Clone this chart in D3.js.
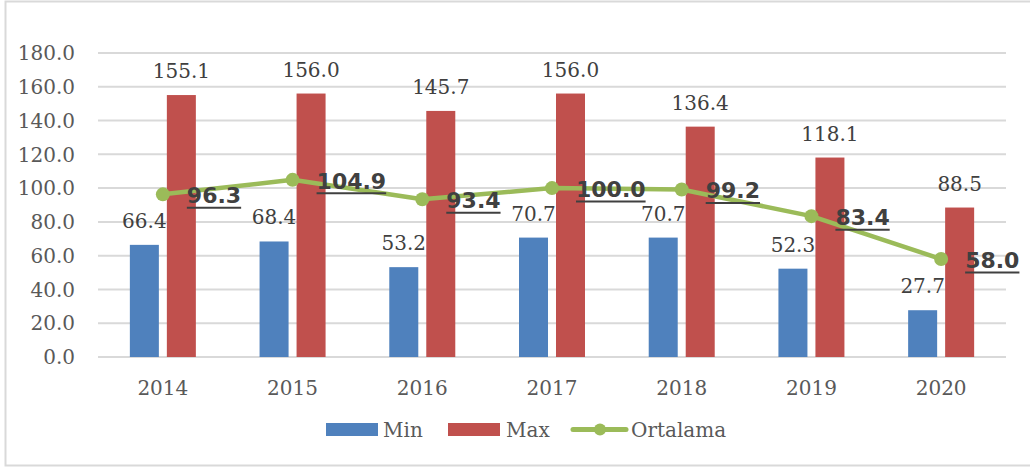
<!DOCTYPE html>
<html>
<head>
<meta charset="utf-8">
<script src="https://cdn.jsdelivr.net/npm/d3@7"></script>
<style>
  html, body { margin: 0; padding: 0; background: #fff; }
  svg { display: block; }
</style>
</head>
<body>
<div id="chart"></div>
<script>
// dades del gràfic
const years = ["2014", "2015", "2016", "2017", "2018", "2019", "2020"];
const minValues = [66.4, 68.4, 53.2, 70.7, 70.7, 52.3, 27.7];
const maxValues = [155.1, 156.0, 145.7, 156.0, 136.4, 118.1, 88.5];
const avgValues = [96.3, 104.9, 93.4, 100.0, 99.2, 83.4, 58.0];
const yTicks = [0, 20, 40, 60, 80, 100, 120, 140, 160, 180];
const seriesNames = ["Min", "Max", "Ortalama"];

const W = 1030, H = 468;
const blue = "#4f81bd", red = "#c0504d", green = "#9bbb59";
const textGray = "#595959";
const serif = "'DejaVu Serif', serif";

const svg = d3.select("#chart").append("svg")
  .attr("width", W).attr("height", H);

// vora del gràfic
svg.append("rect")
  .attr("x", 5.5).attr("y", 1.5)
  .attr("width", W).attr("height", 464)
  .attr("fill", "#fff").attr("stroke", "#d9d9d9").attr("stroke-width", 2);

const x = d3.scaleBand().domain(years).range([98, 1006]);
const sub = d3.scaleBand().domain(["min", "max"]).range([-33, 33]).paddingInner(0.216);
const y = d3.scaleLinear().domain([0, 180]).range([357, 53]);
const cx = d => x(d) + x.bandwidth() / 2;

// línies de la graella
svg.append("g").selectAll("line").data(yTicks).join("line")
  .attr("x1", 98).attr("x2", 1006)
  .attr("y1", d => y(d)).attr("y2", d => y(d))
  .attr("stroke", "#d9d9d9").attr("stroke-width", 2);

// eix Y
svg.append("g").selectAll("text").data(yTicks).join("text")
  .attr("x", 75).attr("y", d => y(d)).attr("dy", "0.36em")
  .attr("text-anchor", "end")
  .attr("font-family", serif).attr("font-size", 20).attr("fill", textGray)
  .text(d => d.toFixed(1));

// eix X
svg.append("g").selectAll("text").data(years).join("text")
  .attr("x", d => cx(d)).attr("y", 395)
  .attr("text-anchor", "middle")
  .attr("font-family", serif).attr("font-size", 20).attr("fill", textGray)
  .text(d => d);

// barres
const barData = years.flatMap((yr, i) => [
  {yr, key: "min", v: minValues[i], c: blue},
  {yr, key: "max", v: maxValues[i], c: red}
]);
svg.append("g").selectAll("rect").data(barData).join("rect")
  .attr("x", d => cx(d.yr) + sub(d.key))
  .attr("y", d => y(d.v))
  .attr("width", sub.bandwidth())
  .attr("height", d => y(0) - y(d.v))
  .attr("fill", d => d.c);

svg.append("g").selectAll("text").data(barData).join("text")
  .attr("x", d => cx(d.yr) + sub(d.key) + sub.bandwidth() / 2)
  .attr("y", d => y(d.v) - 17)
  .attr("text-anchor", "middle")
  .attr("font-family", serif).attr("font-size", 20).attr("fill", "#404040")
  .text(d => d.v.toFixed(1));

// línia de la mitjana
const line = d3.line().x((d, i) => cx(years[i])).y(d => y(d));
svg.append("path").datum(avgValues)
  .attr("d", line)
  .attr("fill", "none").attr("stroke", green).attr("stroke-width", 4.5)
  .attr("stroke-linejoin", "round");
svg.append("g").selectAll("circle").data(avgValues).join("circle")
  .attr("cx", (d, i) => cx(years[i])).attr("cy", d => y(d))
  .attr("r", 7).attr("fill", green);

// etiquetes de la mitjana, subratllades
const avgLabels = svg.append("g").selectAll("g").data(avgValues).join("g")
  .attr("transform", (d, i) => `translate(${cx(years[i]) + 24}, ${y(d) + 9})`);
avgLabels.append("text")
  .attr("font-family", "'DejaVu Sans', sans-serif").attr("font-weight", "bold")
  .attr("font-size", 22).attr("fill", "#404040")
  .text(d => d.toFixed(1));
avgLabels.append("line")
  .attr("x1", 0).attr("y1", 4.5).attr("y2", 4.5)
  .attr("x2", function() { return this.parentNode.querySelector("text").getComputedTextLength(); })
  .attr("stroke", "#404040").attr("stroke-width", 2);

// llegenda
const lg = svg.append("g");
lg.append("rect").attr("x", 326).attr("y", 423).attr("width", 52).attr("height", 13).attr("fill", blue);
lg.append("rect").attr("x", 448).attr("y", 423).attr("width", 52).attr("height", 13).attr("fill", red);
lg.append("line").attr("x1", 573).attr("x2", 626).attr("y1", 429.5).attr("y2", 429.5)
  .attr("stroke", green).attr("stroke-width", 5).attr("stroke-linecap", "round");
lg.append("circle").attr("cx", 600).attr("cy", 429.5).attr("r", 6).attr("fill", green);
lg.selectAll("text").data(seriesNames).join("text")
  .attr("x", (d, i) => [383, 506, 631][i]).attr("y", 437)
  .attr("font-family", serif).attr("font-size", 20).attr("fill", textGray)
  .text(d => d);
</script>
</body>
</html>
